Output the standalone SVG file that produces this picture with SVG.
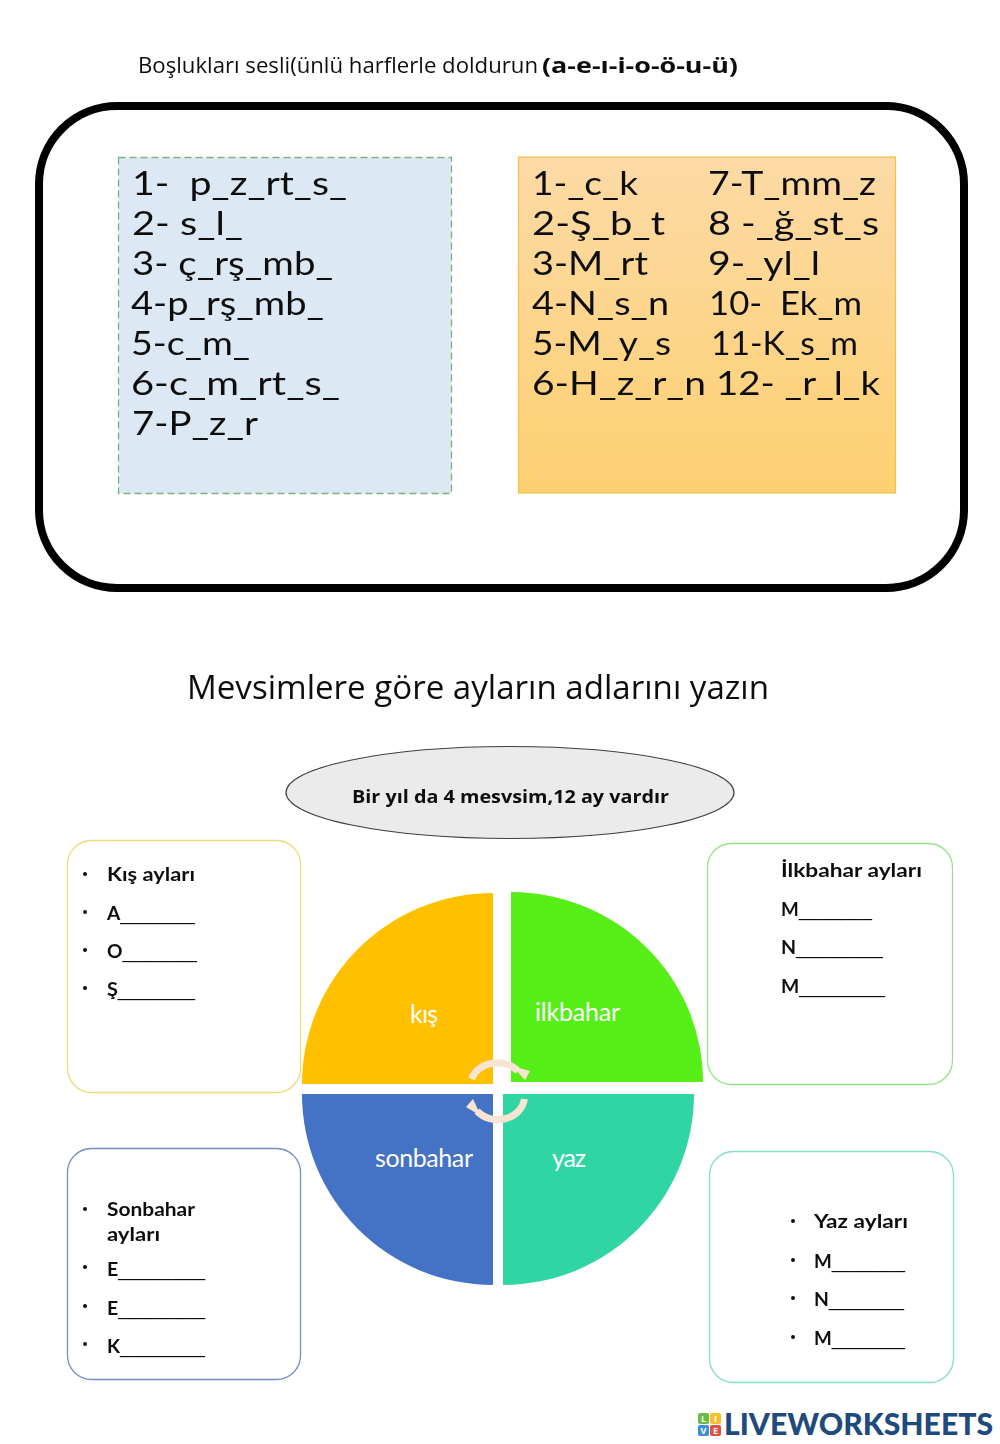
<svg xmlns="http://www.w3.org/2000/svg" width="1000" height="1444" viewBox="0 0 1000 1444">
<defs>
<linearGradient id="og" x1="0" y1="0" x2="0" y2="1"><stop offset="0" stop-color="#fddaa6"/><stop offset="1" stop-color="#fdd071"/></linearGradient>
<filter id="soft" x="-5%" y="-5%" width="110%" height="110%"><feGaussianBlur stdDeviation="0.35"/></filter>
</defs>
<style>
text{font-family:"Open Sans","Noto Sans","DejaVu Sans",sans-serif;fill:#111}
.big{font-family:Lato,"Open Sans",sans-serif;font-size:33px;white-space:pre}
.sm{font-family:Lato,"Open Sans",sans-serif;font-size:19px;font-weight:700}
.u{font-family:"Liberation Sans",Arial,sans-serif;font-weight:400}
.pie{font-family:Lato,"Open Sans",sans-serif;font-size:25px;fill:#fff}
.card{fill:#fff;stroke-width:1.300}
.dot{fill:#111}
.arc{fill:none;stroke:#f8e4d2;stroke-width:7}
.head{fill:#f8e4d2}
</style>
<rect width="1000" height="1444" fill="#fff"/>
<g id="heading1" filter="url(#soft)">
<text x="138" y="73" font-size="21" textLength="400" lengthAdjust="spacingAndGlyphs" fill="#222">Boşlukları sesli(ünlü harflerle doldurun</text>
<text x="542" y="73" font-size="21" font-weight="700" textLength="196" lengthAdjust="spacingAndGlyphs">(a-e-ı-i-o-ö-u-ü)</text>
</g>
<g id="frame"><rect x="39" y="106" width="925" height="482" rx="78" fill="#fff" stroke="#000" stroke-width="8"/></g>
<g id="days" filter="url(#soft)">
<rect x="118.500" y="157.500" width="333" height="336" fill="#dde8f5" stroke="#7fae7f" stroke-width="1.300" stroke-dasharray="7 4"/>
<text class="big" x="132" y="195" textLength="215" lengthAdjust="spacingAndGlyphs">1-  p_z_rt_s_</text>
<text class="big" x="132" y="235" textLength="111" lengthAdjust="spacingAndGlyphs">2- s_l_</text>
<text class="big" x="132" y="275" textLength="201" lengthAdjust="spacingAndGlyphs">3- ç_rş_mb_</text>
<text class="big" x="131" y="315" textLength="193" lengthAdjust="spacingAndGlyphs">4-p_rş_mb_</text>
<text class="big" x="131" y="355" textLength="119" lengthAdjust="spacingAndGlyphs">5-c_m_</text>
<text class="big" x="131" y="395" textLength="209" lengthAdjust="spacingAndGlyphs">6-c_m_rt_s_</text>
<text class="big" x="132" y="435" textLength="126" lengthAdjust="spacingAndGlyphs">7-P_z_r</text>
</g>
<g id="months" filter="url(#soft)">
<rect x="518.500" y="157" width="377" height="336" fill="url(#og)" stroke="#f2c14e" stroke-width="1.200"/>
<text class="big" x="532" y="195" textLength="106" lengthAdjust="spacingAndGlyphs">1-_c_k</text>
<text class="big" x="532" y="235" textLength="133" lengthAdjust="spacingAndGlyphs">2-Ş_b_t</text>
<text class="big" x="532" y="275" textLength="116" lengthAdjust="spacingAndGlyphs">3-M_rt</text>
<text class="big" x="532" y="315" textLength="137" lengthAdjust="spacingAndGlyphs">4-N_s_n</text>
<text class="big" x="532" y="355" textLength="139" lengthAdjust="spacingAndGlyphs">5-M_y_s</text>
<text class="big" x="532" y="395" textLength="174" lengthAdjust="spacingAndGlyphs">6-H_z_r_n</text>
<text class="big" x="708" y="195" textLength="168" lengthAdjust="spacingAndGlyphs">7-T_mm_z</text>
<text class="big" x="708" y="235" textLength="171" lengthAdjust="spacingAndGlyphs">8 -_ğ_st_s</text>
<text class="big" x="708" y="275" textLength="112" lengthAdjust="spacingAndGlyphs">9-_yl_l</text>
<text class="big" x="709" y="315" textLength="153" lengthAdjust="spacingAndGlyphs">10-  Ek_m</text>
<text class="big" x="711" y="355" textLength="147" lengthAdjust="spacingAndGlyphs">11-K_s_m</text>
<text class="big" x="716" y="395" textLength="164" lengthAdjust="spacingAndGlyphs">12- _r_l_k</text>
</g>
<g id="heading2" filter="url(#soft)"><text x="187" y="699" font-size="33" textLength="582" lengthAdjust="spacingAndGlyphs" fill="#222">Mevsimlere göre ayların adlarını yazın</text></g>
<g id="note" filter="url(#soft)">
<ellipse cx="510" cy="792.500" rx="224" ry="46" fill="#ebebeb" stroke="#3f3f3f" stroke-width="1.200"/>
<text x="352" y="803" font-size="18" font-weight="700" textLength="317" lengthAdjust="spacingAndGlyphs">Bir yıl da 4 mesvsim,12 ay vardır</text>
</g>
<g id="kis-card" filter="url(#soft)">
<rect class="card" x="67.500" y="840.500" width="233" height="252" rx="24" stroke="#f2d878"/>
<circle class="dot" cx="85" cy="874" r="2"/><circle class="dot" cx="85" cy="912" r="2"/><circle class="dot" cx="85" cy="950" r="2"/><circle class="dot" cx="85" cy="988" r="2"/>
<text class="sm" x="107" y="881" textLength="88" lengthAdjust="spacingAndGlyphs">Kış ayları</text>
<text class="sm" x="107" y="920" textLength="88" lengthAdjust="spacingAndGlyphs">A<tspan class="u">_______</tspan></text>
<text class="sm" x="107" y="958" textLength="90" lengthAdjust="spacingAndGlyphs">O<tspan class="u">_______</tspan></text>
<text class="sm" x="107" y="996" textLength="88" lengthAdjust="spacingAndGlyphs">Ş<tspan class="u">_______</tspan></text>
</g>
<g id="ilkbahar-card" filter="url(#soft)">
<rect class="card" x="707.500" y="843.500" width="245" height="241" rx="24" stroke="#93e487"/>
<text class="sm" x="781" y="877" textLength="141" lengthAdjust="spacingAndGlyphs">İlkbahar ayları</text>
<text class="sm" x="781" y="916" textLength="91" lengthAdjust="spacingAndGlyphs">M<tspan class="u">_______</tspan></text>
<text class="sm" x="781" y="954" textLength="102" lengthAdjust="spacingAndGlyphs">N<tspan class="u">________</tspan></text>
<text class="sm" x="781" y="993" textLength="104" lengthAdjust="spacingAndGlyphs">M<tspan class="u">________</tspan></text>
</g>
<g id="sonbahar-card" filter="url(#soft)">
<rect class="card" x="67.500" y="1148.500" width="233" height="231" rx="24" stroke="#7390bd"/>
<circle class="dot" cx="85" cy="1209" r="2"/><circle class="dot" cx="85" cy="1267" r="2"/><circle class="dot" cx="85" cy="1306" r="2"/><circle class="dot" cx="85" cy="1344" r="2"/>
<text class="sm" x="107" y="1216" textLength="88" lengthAdjust="spacingAndGlyphs">Sonbahar</text>
<text class="sm" x="107" y="1241" textLength="53" lengthAdjust="spacingAndGlyphs">ayları</text>
<text class="sm" x="107" y="1276" textLength="98" lengthAdjust="spacingAndGlyphs">E<tspan class="u">________</tspan></text>
<text class="sm" x="107" y="1315" textLength="98" lengthAdjust="spacingAndGlyphs">E<tspan class="u">________</tspan></text>
<text class="sm" x="107" y="1353" textLength="98" lengthAdjust="spacingAndGlyphs">K<tspan class="u">________</tspan></text>
</g>
<g id="yaz-card" filter="url(#soft)">
<rect class="card" x="709.500" y="1151.500" width="244" height="231" rx="24" stroke="#84dfc4"/>
<circle class="dot" cx="793" cy="1221" r="2"/><circle class="dot" cx="793" cy="1260" r="2"/><circle class="dot" cx="793" cy="1298" r="2"/><circle class="dot" cx="793" cy="1337" r="2"/>
<text class="sm" x="814" y="1228" textLength="94" lengthAdjust="spacingAndGlyphs">Yaz ayları</text>
<text class="sm" x="814" y="1268" textLength="91" lengthAdjust="spacingAndGlyphs">M<tspan class="u">_______</tspan></text>
<text class="sm" x="814" y="1306" textLength="90" lengthAdjust="spacingAndGlyphs">N<tspan class="u">_______</tspan></text>
<text class="sm" x="814" y="1345" textLength="91" lengthAdjust="spacingAndGlyphs">M<tspan class="u">_______</tspan></text>
</g>
<g id="kis"><path d="M493 1084V893A191 191 0 0 0 302 1084Z" fill="#ffc000"/><text class="pie" x="410" y="1023" textLength="28">kış</text></g>
<g id="ilkbahar"><path d="M511 1082V892A192 190 0 0 1 703 1082Z" fill="#56ee17"/><text class="pie" x="535" y="1021" textLength="85">ilkbahar</text></g>
<g id="sonbahar"><path d="M493 1094V1285A191 191 0 0 1 302 1094Z" fill="#4472c4"/><text class="pie" x="375" y="1167" textLength="98">sonbahar</text></g>
<g id="yaz"><path d="M503 1094V1285A191 191 0 0 0 694 1094Z" fill="#2fd6a3"/><text class="pie" x="552" y="1167" textLength="34">yaz</text></g>
<g id="connectors">
<path class="arc" d="M471.500 1079A27 23 0 0 1 518 1071"/>
<polygon class="head" points="512,1066 530,1071 525,1080"/>
<path class="arc" d="M524.500 1099A27 24 0 0 1 477 1111"/>
<polygon class="head" points="481,1116 466,1107 473,1099"/>
</g>
<g id="logo">
<rect x="698" y="1413" width="11" height="11" rx="2" fill="#6dbb45"/>
<rect x="710" y="1413" width="11" height="11" rx="2" fill="#f5c02c"/>
<rect x="698" y="1425" width="11" height="11" rx="2" fill="#3f8fd6"/>
<rect x="710" y="1425" width="11" height="11" rx="2" fill="#e2503f"/>
<g font-size="9" font-weight="700" text-anchor="middle">
<text x="703.500" y="1422" style="fill:#fff">L</text><text x="715.500" y="1422" style="fill:#fff">I</text><text x="703.500" y="1434" style="fill:#fff">V</text><text x="715.500" y="1434" style="fill:#fff">E</text>
</g>
<text x="724" y="1435" font-size="31" font-weight="900" textLength="269" lengthAdjust="spacingAndGlyphs" style="fill:#1f4a7d;font-family:Lato,'Open Sans',sans-serif">LIVEWORKSHEETS</text>
</g>
</svg>
